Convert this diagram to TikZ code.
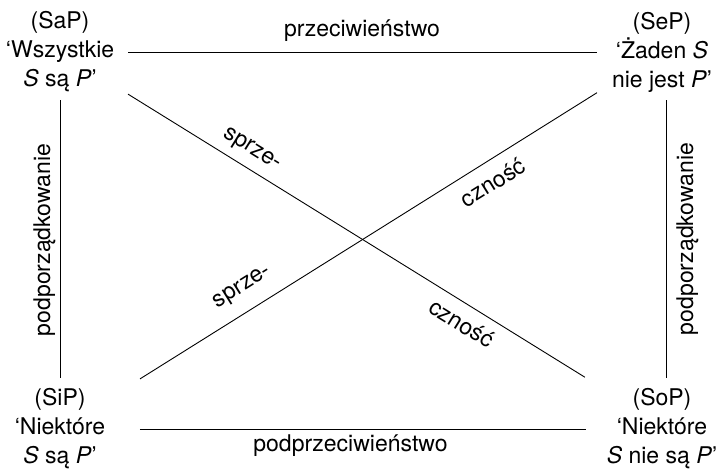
\documentclass[tikz,border=0pt]{standalone}
\usepackage{fontspec}
\setmainfont{TeX Gyre Heros}
\begin{document}
\begin{tikzpicture}[x=1pt,y=1pt,
  corner/.style={align=center, inner sep=0pt, font=\fontsize{23}{29}\selectfont},
  lbl/.style={font=\fontsize{23}{29}\selectfont, inner sep=0pt},
  conn/.style={line width=0.9pt}]
\useasboundingbox (0,0) rectangle (724,472);
\node[corner] (SaP) at (60,420) {(SaP)\\‘Wszystkie\\\textit{S} są \textit{P}’};
\node[corner] (SeP) at (662,420) {(SeP)\\‘Żaden \textit{S}\\nie jest \textit{P}’};
\node[corner] (SiP) at (60,43) {(SiP)\\‘Niektóre\\\textit{S} są \textit{P}’};
\node[corner] (SoP) at (662,43) {(SoP)\\‘Niektóre\\\textit{S} nie są \textit{P}’};
% top and bottom
\draw[conn, shorten <=13.7pt, shorten >=15pt] (SaP) -- (SeP);
\draw[conn, shorten <=34.6pt, shorten >=21pt] (SiP) -- (SoP);
\node[lbl, anchor=base] (prz) at (362,435) {przeciwieństwo};
\node[lbl, anchor=base] (podprz) at (350.5,20) {podprzeciwieństwo};
% verticals
\draw[conn, shorten <=8pt, shorten >=11pt] (SaP.south) -- (SiP.north);
\draw[conn, shorten <=8pt, shorten >=11pt] ([xshift=4pt]SeP.south) -- ([xshift=4pt]SoP.north);
\node[lbl, rotate=90, anchor=base] (podpL) at (50,232) {podporządkowanie};
\node[lbl, rotate=90, anchor=base] (podpR) at (693,233) {podporządkowanie};
% diagonals
\draw[conn, shorten <=80pt, shorten >=90.7pt] (SaP.center) -- ([yshift=4pt]SoP.center)
  node[lbl, sloped, pos=0.303, yshift=17.8pt] (s1) {sprze-}
  node[lbl, sloped, pos=0.684, yshift=-18.7pt] (c1) {czność};
\draw[conn, shorten <=76.7pt, shorten >=94.4pt] (SeP.center) -- (SiP.center)
  node[lbl, sloped, pos=0.299, yshift=-20.5pt] (c2) {czność}
  node[lbl, sloped, pos=0.676, yshift=22.4pt] (s2) {sprze-};
\end{tikzpicture}
\end{document}
